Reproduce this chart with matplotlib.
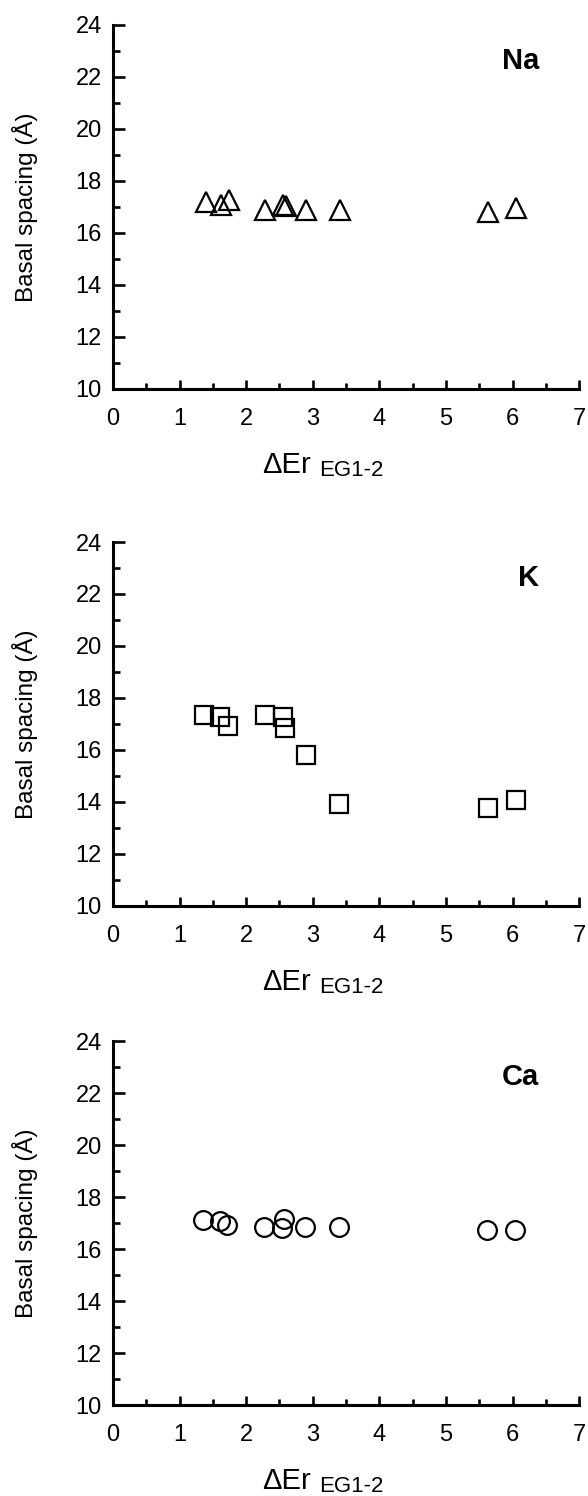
import numpy as np
import matplotlib.pyplot as plt
from matplotlib.ticker import MultipleLocator

plt.rcParams['font.family'] = ['Liberation Sans', 'DejaVu Sans']

# datos
na_x = [1.40, 1.63, 1.74, 2.28, 2.55, 2.60, 2.90, 3.41, 5.63, 6.05]
na_y = [17.19, 17.07, 17.27, 16.90, 17.07, 17.02, 16.87, 16.87, 16.80, 16.97]

k_x = [1.37, 1.61, 1.73, 2.28, 2.55, 2.58, 2.90, 3.40, 5.63, 6.05]
k_y = [17.35, 17.26, 16.94, 17.35, 17.26, 16.85, 15.79, 13.92, 13.75, 14.08]

ca_x = [1.36, 1.61, 1.72, 2.27, 2.54, 2.57, 2.88, 3.40, 5.61, 6.04]
ca_y = [17.12, 17.08, 16.91, 16.85, 16.81, 17.17, 16.85, 16.85, 16.75, 16.75]

paneles = [
    ("Na", na_x, na_y, "^", 14.5),
    ("K", k_x, k_y, "s", 13.5),
    ("Ca", ca_x, ca_y, "o", 13.5),
]

# posiciones de los ejes (fraccion de figura)
bottoms = [0.740, 0.3944, 0.0608]
alto = 0.2433

fig = plt.figure(figsize=(5.88, 14.96), dpi=100)

for (nombre, xs, ys, marca, tam), b in zip(paneles, bottoms):
    ax = fig.add_axes([0.192, b, 0.793, alto])
    ax.plot(xs, ys, linestyle='none', marker=marca, markersize=tam,
            markerfacecolor='none', markeredgecolor='black', markeredgewidth=1.6,
            clip_on=False)
    ax.set_xlim(0, 7)
    ax.set_ylim(10, 24)
    ax.xaxis.set_major_locator(MultipleLocator(1))
    ax.xaxis.set_minor_locator(MultipleLocator(0.5))
    ax.yaxis.set_major_locator(MultipleLocator(2))
    ax.yaxis.set_minor_locator(MultipleLocator(1))
    ax.spines['top'].set_visible(False)
    ax.spines['right'].set_visible(False)
    for s in ('left', 'bottom'):
        ax.spines[s].set_linewidth(2.2)
    ax.tick_params(which='both', direction='in', width=1.9, labelsize=17)
    ax.tick_params(axis='y', which='major', length=8.5, pad=8)
    ax.tick_params(axis='y', which='minor', length=5)
    ax.tick_params(axis='x', which='major', length=6.5, pad=14)
    ax.tick_params(axis='x', which='minor', length=4)

    ax.set_ylabel("Basal spacing (Å)", fontsize=17.5)
    ax.yaxis.set_label_coords(-0.16, 0.5)

    # etiqueta del eje x con subindice
    ax.text(0.425, -0.232, "ΔEr", transform=ax.transAxes, ha='right',
            va='baseline', fontsize=21)
    ax.text(0.442, -0.238, "EG1-2", transform=ax.transAxes, ha='left',
            va='baseline', fontsize=16)

    ax.text(6.4, 22.6, nombre, ha='right', va='center', fontsize=21,
            fontweight='bold')

fig.savefig("out.png", dpi=100)
